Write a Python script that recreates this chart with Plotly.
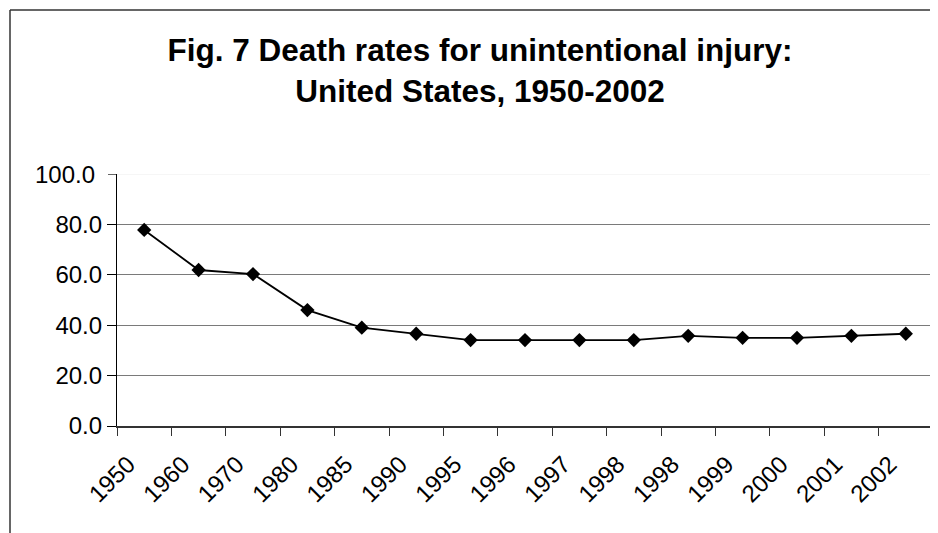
import plotly.graph_objects as go

years = ["1950", "1960", "1970", "1980", "1985", "1990", "1995", "1996",
         "1997", "1998", "1998", "1999", "2000", "2001", "2002"]
rates = [77.8, 61.9, 60.3, 46.0, 39.0, 36.6, 34.1, 34.1, 34.1, 34.1,
         35.8, 35.0, 35.0, 35.8, 36.6]
y_ticks = [0, 20, 40, 60, 80, 100]
y_labels = ["0.0", "20.0", "40.0", "60.0", "80.0", "100.0"]

idx = list(range(len(years)))
bounds = [i - 0.5 for i in range(len(years) + 1)]

FONT = "Liberation Sans, Arial, sans-serif"
OFF = 8  # page body margin
W, H = 938 - OFF, 533 - OFF
L, R, T, B = 117 - OFF, 5, 174 - OFF, 107
pw, ph = W - L - R, H - T - B

fig = go.Figure()
fig.add_trace(go.Scatter(
    x=idx, y=rates, mode="lines+markers",
    line=dict(color="black", width=1.8),
    marker=dict(symbol="diamond", size=11, color="black"),
    showlegend=False, hoverinfo="skip"))
# invisible trace for the boundary-tick axis
fig.add_trace(go.Scatter(x=[bounds[0], bounds[-1]], y=[0, 0], xaxis="x2",
                         mode="markers", marker=dict(opacity=0),
                         showlegend=False, hoverinfo="skip"))

fig.update_layout(
    width=W, height=H,
    margin=dict(l=L, r=R, t=T, b=B, autoexpand=False),
    paper_bgcolor="white", plot_bgcolor="white",
    font=dict(family=FONT, color="black"),
    title=dict(text="<b>Fig. 7 Death rates for unintentional injury:<br>United States, 1950-2002</b>",
               x=(480 - OFF) / W, xanchor="center", y=1 - 53 / H, yanchor="top",
               yref="container", font=dict(size=31.5, family=FONT, color="black")),
    xaxis=dict(range=[bounds[0], bounds[-1]], tickmode="array", tickvals=idx,
               ticktext=years, tickangle=-45, ticks="", showgrid=False,
               zeroline=False, showline=True, linecolor="#333", linewidth=1.5,
               ticklabelstandoff=13, ticklabelshift=-16,
               tickfont=dict(size=24, family=FONT, color="black")),
    xaxis2=dict(range=[bounds[0], bounds[-1]], overlaying="x", tickmode="array",
                tickvals=bounds, ticks="outside", ticklen=9, tickcolor="#333",
                tickwidth=1.2, showticklabels=False, showgrid=False,
                zeroline=False, showline=False, anchor="y", side="bottom"),
    yaxis=dict(range=[0, 100], tickmode="array", tickvals=y_ticks[:-1],
               ticktext=y_labels[:-1], ticks="outside", ticklen=9,
               tickcolor="black", showline=True, linecolor="black", linewidth=1.2,
               showgrid=True, gridcolor="#7a7a7a", gridwidth=1.2, zeroline=False,
               tickfont=dict(size=24, family=FONT, color="black")),
)

# faint top gridline at 100 with its tick and label
fig.add_shape(type="line", xref="paper", yref="y", x0=0, x1=1, y0=100, y1=100,
              line=dict(color="#eeeeee", width=1.2))
fig.add_shape(type="line", xref="paper", yref="y", x0=-9 / pw, x1=0, y0=100, y1=100,
              line=dict(color="black", width=1.2))
fig.add_annotation(xref="paper", yref="y", x=-20 / pw, y=100, text=y_labels[-1],
                   showarrow=False, xanchor="right", yanchor="middle",
                   font=dict(size=24, family=FONT, color="black"))

# chart-area border (top and left edges visible)
bx = (10 - OFF - L) / pw
by = 1 + (T - (10 - OFF)) / ph
fig.add_shape(type="line", xref="paper", yref="paper", x0=bx, x1=1 + (R + 5) / pw,
              y0=by, y1=by, line=dict(color="#333", width=1.5))
fig.add_shape(type="line", xref="paper", yref="paper", x0=bx, x1=bx,
              y0=by, y1=-(B + 5) / ph, line=dict(color="#333", width=1.5))

fig.write_html("out.html")
